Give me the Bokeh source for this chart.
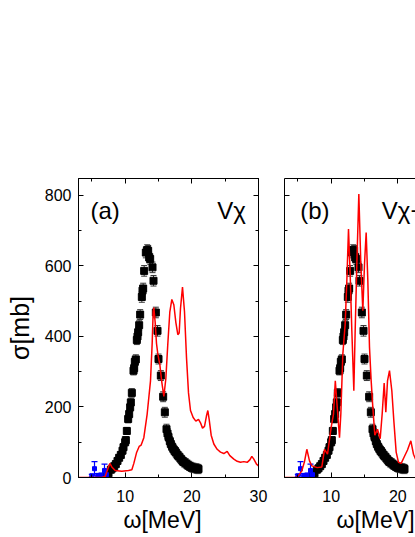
from bokeh.plotting import figure
from bokeh.models import (ColumnDataSource, Whisker, LinearAxis, Range1d,
                          SingleIntervalTicker, Label, TeeHead, Title,
                          CustomJSTickFormatter)
from bokeh.layouts import row
from bokeh.embed import file_html
from bokeh.resources import INLINE

FONT = "Liberation Sans"

# experimental photoabsorption data (black squares)
exp_x = [7.2, 7.5, 7.85, 8.1, 8.36, 8.6, 8.85, 9.1, 9.35, 9.6, 9.75, 10.0, 10.1,
         10.25, 10.45, 10.6, 10.75, 10.85, 11.0, 11.25, 11.35, 11.45, 11.6, 11.75,
         11.85, 11.95, 12.1, 12.25, 12.5, 12.6, 12.7, 12.85, 13.1, 13.3, 13.45,
         13.6, 13.75, 14.1, 14.25, 14.6, 14.85, 15.0, 15.35, 15.7, 15.95, 16.2,
         16.35, 16.5, 16.7, 16.85, 17.05, 17.25, 17.45, 17.6, 17.85, 18.1, 18.35,
         18.6, 18.85, 19.1, 19.35, 19.6, 19.85, 20.1, 20.35, 20.6, 20.8, 21.0]
exp_y = [8, 12, 22, 26, 32, 38, 47, 56, 64, 76, 86, 100, 106,
         132, 166, 180, 199, 213, 240, 303, 310, 328, 335, 390,
         400, 412, 432, 462, 512, 530, 536, 586, 638, 645, 643,
         624, 620, 596, 558, 468, 416, 336, 289, 229, 185, 137,
         125, 115, 103, 95, 87, 80, 75, 71, 64, 59, 53,
         47, 43, 40, 36, 33, 30, 28, 27, 26, 25, 24]
exp_err = [6, 6, 7, 7, 7, 8, 8, 8, 9, 9, 9, 10, 10,
           10, 11, 11, 11, 12, 12, 12, 13, 13, 13, 13,
           14, 14, 14, 14, 15, 15, 15, 15, 15, 15, 15,
           15, 15, 15, 15, 15, 15, 14, 14, 14, 14, 14,
           14, 13, 13, 13, 13, 13, 13, 13, 13, 13, 13,
           13, 13, 13, 13, 13, 13, 13, 13, 13, 13, 13]

# low-energy data (blue)
blue_x = [5.0, 5.4, 5.9, 6.4, 6.9, 7.2]
blue_y = [5, 25, 6, 7, 20, 8]
blue_yerr = [4, 20, 5, 5, 18, 6]
blue_xerr = [0.25, 0.25, 0.25, 0.25, 0.25, 0.25]

# calculation (a): V_chi
red_a_x = [3.0, 6.5, 7.0, 7.4, 7.7, 8.0, 8.5, 9.5, 10.5, 11.0, 11.3, 11.7, 12.1,
           12.4, 12.8, 13.3, 13.8, 14.05, 14.2, 14.3, 14.5, 14.7, 14.9, 15.2,
           15.5, 15.8, 16.1, 16.4, 16.7, 17.0, 17.3, 17.6, 17.9, 18.1, 18.3,
           18.6, 18.9, 19.2, 19.5, 19.8, 20.2, 20.6, 21.0, 21.3, 21.6, 21.9,
           22.2, 22.4, 22.6, 22.9, 23.3, 23.8, 24.3, 24.8, 25.3, 25.7, 26.3,
           26.8, 27.3, 27.8, 28.3, 28.7, 29.0, 29.3, 29.7, 30.0]
red_a_y = [0, 0, 3, 25, 40, 30, 20, 18, 20, 22, 40, 70, 88,
           92, 113, 180, 274, 380, 470, 482, 440, 380, 350, 320,
           270, 230, 280, 380, 470, 505, 490, 440, 405, 410, 480,
           540, 470, 340, 240, 190, 170, 160, 165, 155, 140, 145,
           175, 190, 165, 120, 95, 80, 72, 68, 74, 62, 52,
           46, 43, 45, 43, 50, 60, 52, 38, 33]

# calculation (b)
red_b_x = [3.0, 4.8, 5.2, 5.6, 6.0, 6.35, 6.75, 7.1, 7.9, 8.6, 9.0, 9.45, 10.0,
           10.35, 10.62, 10.95, 11.25, 11.45, 11.75, 12.1, 12.35, 12.6, 12.85,
           13.1, 13.4, 13.6, 13.85, 14.15, 14.45, 14.75, 15.0, 15.25, 15.5,
           15.75, 16.0, 16.25, 16.55, 16.95, 17.35, 17.65, 17.95, 18.2, 18.45,
           18.75, 19.1, 19.4, 19.75, 20.1, 20.5, 20.95, 21.45, 21.95, 22.35, 22.7]
red_b_y = [0, 0, 8, 19, 45, 80, 47, 33, 28, 30, 80, 66, 142,
           180, 274, 189, 113, 180, 350, 435, 558, 705, 577,
           416, 246, 416, 605, 804, 605, 473, 605, 695, 558,
           369, 274, 199, 120, 137, 110, 180, 268, 185, 274,
           303, 246, 161, 72, 43, 40, 58, 78, 104, 66, 50]

x_tick_step = 10
y_tick_step = 200

BLANK = CustomJSTickFormatter(code="return ''")


def style_axis(ax, show_labels):
    ax.axis_line_color = "black"
    ax.axis_line_width = 1
    ax.major_tick_line_color = "black"
    ax.minor_tick_line_color = "black"
    ax.major_tick_in = 5
    ax.major_tick_out = 0
    ax.minor_tick_in = 3
    ax.minor_tick_out = 0
    ax.major_label_text_font = FONT
    ax.major_label_text_color = "black"
    ax.major_label_text_font_size = "16px"
    if not show_labels:
        ax.formatter = BLANK
        ax.major_label_standoff = 0


def make_panel(width, x_end, border_left, border_right, right_axis, y_labels,
               red_x, red_y, tag, model, tag_x, model_x, xlab_offset):
    p = figure(width=width, height=537, x_range=Range1d(3, x_end),
               y_range=Range1d(0, 848), output_backend="svg",
               toolbar_location=None, x_axis_location=None,
               y_axis_location=None, min_border_left=border_left,
               min_border_right=border_right, min_border_top=178,
               min_border_bottom=60)
    p.grid.visible = False
    p.background_fill_color = "white"
    p.border_fill_color = "white"
    p.outline_line_color = "black" if right_axis else None

    xb = LinearAxis(ticker=SingleIntervalTicker(interval=x_tick_step, num_minor_ticks=2))
    style_axis(xb, True)
    xb.major_label_standoff = 12
    p.add_layout(xb, "below")
    p.add_layout(Title(text="ω[MeV]", align="left", offset=xlab_offset,
                       text_font=FONT, text_font_size="23px",
                       text_font_style="normal", text_color="black",
                       standoff=0), "below")
    xt = LinearAxis(ticker=SingleIntervalTicker(interval=x_tick_step, num_minor_ticks=2))
    style_axis(xt, False)
    p.add_layout(xt, "above")
    yl = LinearAxis(ticker=SingleIntervalTicker(interval=y_tick_step, num_minor_ticks=2))
    style_axis(yl, y_labels)
    if y_labels:
        yl.major_label_standoff = 7
        yl.axis_label = "σ[mb]"
        yl.axis_label_text_font = FONT
        yl.axis_label_text_font_size = "25px"
        yl.axis_label_text_font_style = "normal"
        yl.axis_label_text_color = "black"
        yl.axis_label_standoff = 8
    p.add_layout(yl, "left")
    if right_axis:
        yr = LinearAxis(ticker=SingleIntervalTicker(interval=y_tick_step, num_minor_ticks=2))
        style_axis(yr, False)
        p.add_layout(yr, "right")

    # experimental error bars and squares
    src = ColumnDataSource(dict(
        x=exp_x, y=exp_y,
        lo=[v - e for v, e in zip(exp_y, exp_err)],
        hi=[v + e for v, e in zip(exp_y, exp_err)]))
    p.add_layout(Whisker(base="x", lower="lo", upper="hi", source=src,
                         line_color="#333333", line_width=1,
                         upper_head=TeeHead(size=6, line_color="#333333"),
                         lower_head=TeeHead(size=6, line_color="#333333")))
    p.scatter("x", "y", source=src, marker="square", size=7,
              fill_color="black", line_color="black")

    # blue low-energy points
    bsrc = ColumnDataSource(dict(
        x=blue_x, y=blue_y,
        lo=[v - e for v, e in zip(blue_y, blue_yerr)],
        hi=[v + e for v, e in zip(blue_y, blue_yerr)],
        xl=[v - e for v, e in zip(blue_x, blue_xerr)],
        xh=[v + e for v, e in zip(blue_x, blue_xerr)]))
    p.add_layout(Whisker(base="x", lower="lo", upper="hi", source=bsrc,
                         line_color="blue", line_width=1.2,
                         upper_head=TeeHead(size=6, line_color="blue", line_width=1.2),
                         lower_head=TeeHead(size=6, line_color="blue", line_width=1.2)))
    p.add_layout(Whisker(base="y", lower="xl", upper="xh", source=bsrc,
                         dimension="width", line_color="blue", line_width=1.2,
                         upper_head=None, lower_head=None))
    p.scatter("x", "y", source=bsrc, marker="square", size=4,
              fill_color="blue", line_color="blue")

    # calculation
    p.line(red_x, red_y, line_color="red", line_width=1.5)

    p.add_layout(Label(x=tag_x, y=757, text=tag, text_font=FONT,
                       text_font_size="24px", text_color="black",
                       text_baseline="alphabetic"))
    p.add_layout(Label(x=model_x, y=757, text=model, text_font=FONT,
                       text_font_size="24px", text_color="black",
                       text_baseline="alphabetic"))
    return p


pa = make_panel(271, 30, 78, 13, True, True, red_a_x, red_a_y,
                "(a)", "Vχ", 4.8, 23.8, 45)
pb = make_panel(144, 3 + 131 / (180 / 27), 13, 0, False, False, red_b_x, red_b_y,
                "(b)", "Vχ+Vρ", 5.35, 17.6, 52)

layout = row(pa, pb, spacing=0)
open("out.html", "w").write(file_html(layout, INLINE))
